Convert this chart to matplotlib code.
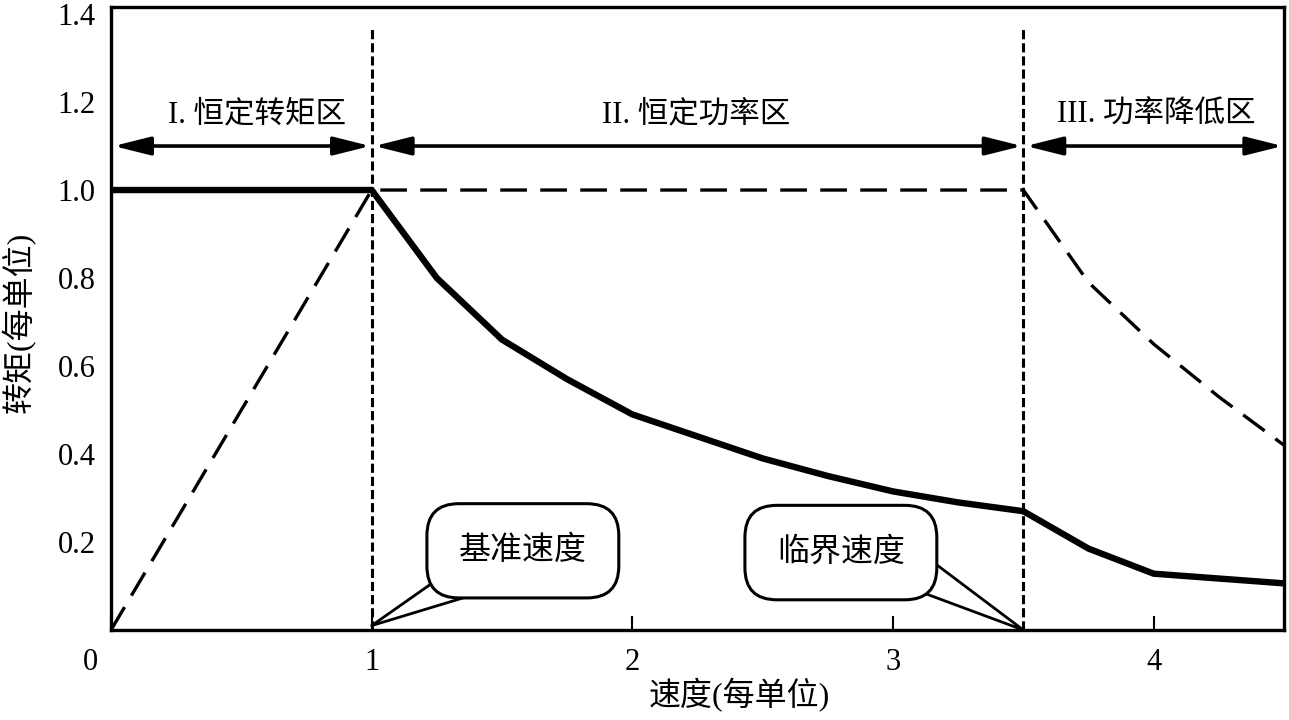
import matplotlib
matplotlib.use("Agg")
import matplotlib.pyplot as plt
from matplotlib.transforms import ScaledTranslation

# data
speed_ct = [0.0, 1.0]
torque_ct = [1.0, 1.0]
speed_cp = [1.0, 1.25, 1.5, 1.75, 2.0, 2.25, 2.5, 2.75, 3.0, 3.25, 3.5]
torque_cp = [1.0, 0.80, 0.66, 0.57, 0.49, 0.44, 0.39, 0.35, 0.315, 0.29, 0.27]
speed_pr = [3.5, 3.75, 4.0, 4.5]
torque_pr = [0.27, 0.185, 0.128, 0.106]

power_speed = [0.0, 1.0, 3.5, 3.75, 4.0, 4.25, 4.5]
power_val = [0.0, 1.0, 1.0, 0.79, 0.65, 0.53, 0.42]

base_speed = 1.0
crit_speed = 3.5
max_speed = 4.5

regions = ["I. 恒定转矩区", "II. 恒定功率区", "III. 功率降低区"]
region_bounds = [(0.0, base_speed), (base_speed, crit_speed), (crit_speed, max_speed)]
region_label_x = [0.56, 2.245, 4.01]

xticks = [0, 1, 2, 3, 4]
yticks = [0.2, 0.4, 0.6, 0.8, 1.0, 1.2, 1.4]

plt.rcParams["font.family"] = ["Liberation Serif", "Noto Sans CJK SC", "DejaVu Sans"]

fig = plt.figure(figsize=(12.89, 7.2), dpi=100)
ax = fig.add_axes([111 / 1289, 1 - 630 / 720, 1173 / 1289, 623 / 720])

# torque (solid) and power (dashed)
ax.plot(speed_ct + speed_cp[1:] + speed_pr[1:], torque_ct + torque_cp[1:] + torque_pr[1:],
        color="black", lw=4.6, solid_joinstyle="miter")
ax.plot(power_speed, power_val, color="black", lw=2.4, dashes=(8, 4))

# region borders
for xv in [base_speed, crit_speed]:
    ax.plot([xv, xv], [0, 1.37], color="black", lw=2.2, dashes=(3, 1.3))

# region arrows and labels
for (a, b), name, lx in zip(region_bounds, regions, region_label_x):
    ax.annotate("", xy=(b - 0.005, 1.1), xytext=(a + 0.01, 1.1),
                arrowprops=dict(arrowstyle="<|-|>,head_length=0.8,head_width=0.2",
                                color="black", lw=2.6, mutation_scale=28,
                                shrinkA=0, shrinkB=0))
    ax.text(lx, 1.17, name, ha="center", va="center", fontsize=22)

# callouts
bubble = dict(boxstyle="round,pad=1.0", fc="white", ec="black", lw=2.2)
ax.annotate("基准速度", xy=(base_speed, 0.01), xytext=(1.58, 0.18),
            ha="center", va="center", fontsize=23, bbox=bubble,
            arrowprops=dict(arrowstyle="wedge,tail_width=1.4", fc="white", ec="black",
                            lw=2.0, patchA=None, shrinkA=0, shrinkB=0,
                            relpos=(0.3, 0.05)))
ax.annotate("临界速度", xy=(crit_speed, 0.0), xytext=(2.80, 0.176),
            ha="center", va="center", fontsize=23, bbox=bubble,
            arrowprops=dict(arrowstyle="wedge,tail_width=1.3", fc="white", ec="black",
                            lw=2.0, patchA=None, shrinkA=0, shrinkB=0,
                            relpos=(0.95, 0.2)))

ax.set_xlim(0, max_speed)
ax.set_ylim(0, 1.416)
ax.set_xticks(xticks)
ax.set_xticklabels([str(t) for t in xticks])
ax.set_yticks(yticks)
ax.set_yticklabels([f"{t:.1f}" for t in yticks])
ax.tick_params(axis="x", direction="in", length=10, width=1.5, pad=13, labelsize=22)
ax.tick_params(axis="y", length=0, pad=11, labelsize=22)
lab0 = ax.get_xticklabels()[0]
lab0.set_transform(lab0.get_transform() + ScaledTranslation(-21 / 100, 0, fig.dpi_scale_trans))

for s in ax.spines.values():
    s.set_linewidth(2.4)

ax.set_xlabel("速度(每单位)", fontsize=23, va="center")
ax.xaxis.set_label_coords(0.536, -0.104)
ax.set_ylabel("转矩(每单位)", fontsize=23, va="center")
ax.yaxis.set_label_coords(-0.079, 0.493)

fig.savefig("out.png", dpi=100)
